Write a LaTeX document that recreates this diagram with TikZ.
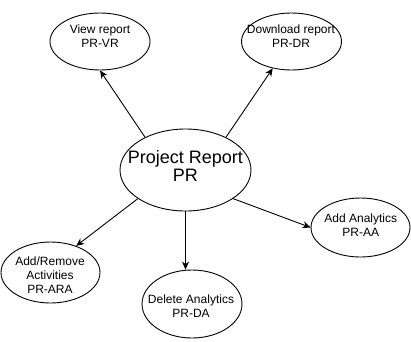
\documentclass[tikz,border=0pt]{standalone}
\usepackage{fontspec}
\setmainfont{Liberation Sans}
\usetikzlibrary{arrows.meta,shapes.geometric}
\begin{document}
\begin{tikzpicture}[x=1pt,y=-1pt,
  bubble/.style={draw=black, line width=0.9pt, ellipse, inner sep=0pt},
  caption/.style={align=center, font=\fontsize{12}{14}\selectfont, inner sep=0pt},
  bigcaption/.style={align=center, font=\fontsize{18}{18.3}\selectfont, inner sep=0pt},
  link/.style={line width=0.9pt, -{Stealth[length=8pt,width=7pt,inset=2.5pt]}}]
\useasboundingbox (0,0) rectangle (411,341);

% outlines of the use cases
\node[bubble, minimum width=131pt, minimum height=82pt] (pr)  at (185.5,170) {};
\node[bubble, minimum width=100pt, minimum height=57pt] (vr)  at (100,41.5) {};
\node[bubble, minimum width=100pt, minimum height=57pt] (dr)  at (291.5,41.5) {};
\node[bubble, minimum width=99pt,  minimum height=59pt] (aa)  at (360.5,227.5) {};
\node[bubble, minimum width=99pt,  minimum height=61pt] (ara) at (50.5,272.5) {};
\node[bubble, minimum width=100pt, minimum height=68pt] (da)  at (192,304) {};

% labels
\node[bigcaption] (prt)  at (185.3,165.8) {Project Report\\PR};
\node[caption]    (vrt)  at (100,35.7)    {View report\\PR-VR};
\node[caption]    (drt)  at (291,35.8)    {Download report\\PR-DR};
\node[caption]    (aat)  at (360.8,225.3) {Add Analytics\\PR-AA};
\node[caption]    (arat) at (50,275.6)    {Add/Remove\\Activities\\PR-ARA};
\node[caption]    (dat)  at (191,306.5)   {Delete Analytics\\PR-DA};

% connectors
\draw[link] (pr.141) -- (vr.south);
\draw[link] (pr.39)  -- (dr.235);
\draw[link] (pr.211) -- (ara.46);
\draw[link] (pr.south) -- (pr.south |- da.north);
\draw[link] (pr.329) -- (aa.west);
\end{tikzpicture}
\end{document}
